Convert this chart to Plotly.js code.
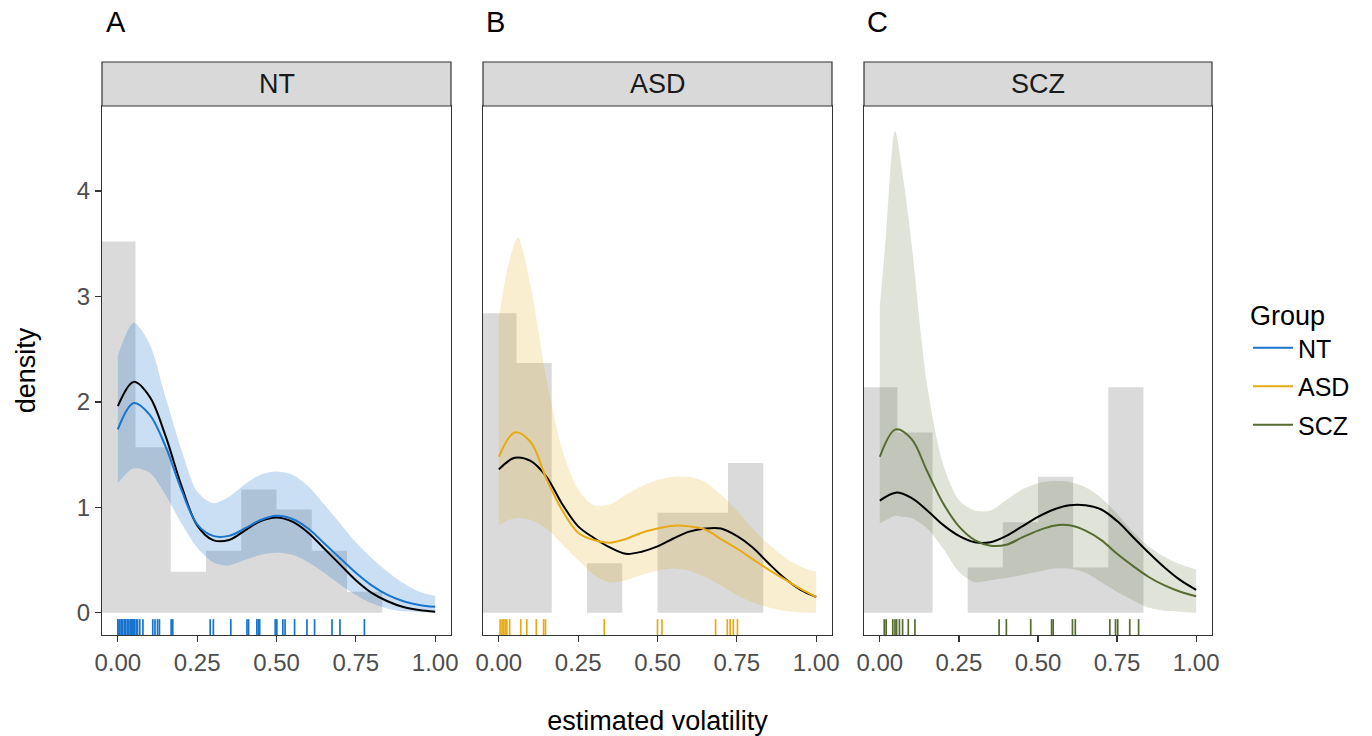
<!DOCTYPE html>
<html>
<head>
<meta charset="utf-8">
<script src="https://cdn.plot.ly/plotly-3.0.1.min.js"></script>
<style>html,body{margin:0;padding:0;background:#fff}#chart{width:1372px;height:736px}</style>
</head>
<body>
<div id="chart"></div>
<script>
// ---------- data ----------
const groups = ["NT", "ASD", "SCZ"];
const panelLetters = ["A", "B", "C"];
const xTickVals = [0, 0.25, 0.5, 0.75, 1];
const xTickLabels = ["0.00", "0.25", "0.50", "0.75", "1.00"];
const yTickVals = [0, 1, 2, 3, 4];

// histogram (bin width 1/9, centres)
const binWidth = 1 / 9;
const binCenters = [0, 0.1111, 0.2222, 0.3333, 0.4444, 0.5556, 0.6667, 0.7778];
const histNT  = [3.52, 1.57, 0.39, 0.59, 1.17, 0.98, 0.59, 0.20];
const histASD = [2.84, 2.37, 0.00, 0.47, 0.00, 0.95, 0.95, 1.42];
const histSCZ = [2.14, 1.71, 0.00, 0.43, 0.86, 1.29, 0.43, 2.14];

// density curves
const xGrid = [0, 0.05, 0.1, 0.15, 0.2, 0.25, 0.3, 0.35, 0.4, 0.45, 0.5, 0.55, 0.6, 0.65, 0.7, 0.75, 0.8, 0.85, 0.9, 0.95, 1.0];
const groupNT   = [1.74, 1.99, 1.88, 1.58, 1.17, 0.84, 0.73, 0.73, 0.80, 0.88, 0.92, 0.89, 0.80, 0.66, 0.52, 0.38, 0.26, 0.17, 0.11, 0.075, 0.057];
const overallNT = [1.96, 2.19, 2.05, 1.68, 1.21, 0.83, 0.69, 0.69, 0.78, 0.87, 0.905, 0.865, 0.76, 0.61, 0.46, 0.31, 0.19, 0.11, 0.055, 0.027, 0.011];
const groupASD   = [1.48, 1.71, 1.62, 1.27, 0.97, 0.76, 0.69, 0.665, 0.70, 0.76, 0.80, 0.827, 0.82, 0.79, 0.70, 0.61, 0.51, 0.41, 0.32, 0.23, 0.15];
const overallASD = [1.36, 1.47, 1.44, 1.29, 1.03, 0.82, 0.71, 0.62, 0.56, 0.58, 0.63, 0.705, 0.77, 0.80, 0.80, 0.73, 0.62, 0.47, 0.33, 0.22, 0.15];
const groupSCZ   = [1.48, 1.74, 1.65, 1.34, 1.04, 0.82, 0.69, 0.637, 0.646, 0.715, 0.78, 0.827, 0.83, 0.78, 0.69, 0.56, 0.445, 0.34, 0.26, 0.20, 0.157];
const overallSCZ = [1.064, 1.14, 1.09, 0.97, 0.834, 0.73, 0.67, 0.67, 0.73, 0.82, 0.91, 0.98, 1.02, 1.02, 0.98, 0.87, 0.72, 0.57, 0.43, 0.31, 0.218];

// credible bands
const bandXNT = [0, 0.05, 0.1, 0.15, 0.2, 0.25, 0.3, 0.35, 0.4, 0.45, 0.5, 0.55, 0.6, 0.65, 0.7, 0.75, 0.8, 0.85, 0.9, 0.95, 1.0];
const upperNT = [2.44, 2.75, 2.55, 2.05, 1.55, 1.15, 1.04, 1.10, 1.22, 1.31, 1.34, 1.31, 1.20, 1.03, 0.85, 0.67, 0.52, 0.39, 0.28, 0.20, 0.16];
const lowerNT = [1.23, 1.37, 1.33, 1.12, 0.85, 0.62, 0.48, 0.45, 0.50, 0.55, 0.57, 0.55, 0.48, 0.38, 0.27, 0.17, 0.09, 0.04, 0.015, 0.005, 0.0];
const bandXASD = [0, 0.03, 0.06, 0.1, 0.15, 0.2, 0.25, 0.3, 0.35, 0.4, 0.45, 0.5, 0.55, 0.6, 0.65, 0.7, 0.75, 0.8, 0.85, 0.9, 0.95, 1.0];
const upperASD = [2.8, 3.3, 3.56, 3.1, 2.22, 1.545, 1.17, 1.02, 1.03, 1.12, 1.20, 1.26, 1.29, 1.29, 1.24, 1.12, 0.97, 0.80, 0.65, 0.53, 0.44, 0.39];
const lowerASD = [0.83, 0.88, 0.90, 0.88, 0.80, 0.65, 0.50, 0.36, 0.29, 0.31, 0.36, 0.40, 0.42, 0.40, 0.34, 0.26, 0.17, 0.10, 0.05, 0.02, 0.005, 0.0];
const bandXSCZ = [0, 0.02, 0.048, 0.075, 0.1, 0.15, 0.2, 0.25, 0.3, 0.35, 0.4, 0.45, 0.5, 0.55, 0.6, 0.65, 0.7, 0.75, 0.8, 0.85, 0.9, 0.95, 1.0];
const upperSCZ = [2.9, 3.6, 4.57, 4.1, 3.51, 2.15, 1.41, 1.07, 0.97, 0.97, 1.07, 1.17, 1.23, 1.25, 1.24, 1.19, 1.09, 0.94, 0.77, 0.63, 0.53, 0.46, 0.41];
const lowerSCZ = [0.85, 0.88, 0.92, 0.91, 0.90, 0.80, 0.61, 0.39, 0.29, 0.31, 0.33, 0.36, 0.39, 0.42, 0.42, 0.38, 0.29, 0.20, 0.12, 0.05, 0.02, 0.01, 0.0];

// rug (individual estimates)
const rugNT = [0.0, 0.0, 0.005, 0.01, 0.012, 0.015, 0.02, 0.022, 0.025, 0.03, 0.032, 0.035, 0.04, 0.042, 0.045, 0.048, 0.05, 0.053,
  0.058, 0.062, 0.069, 0.079, 0.11, 0.117, 0.125, 0.131, 0.168, 0.173, 0.291, 0.301, 0.356,
  0.407, 0.412, 0.438, 0.443, 0.447, 0.496, 0.501, 0.52, 0.527, 0.557, 0.596, 0.62, 0.675, 0.70, 0.777];
const rugASD = [0.004, 0.01, 0.015, 0.02, 0.025, 0.034, 0.069, 0.088, 0.118, 0.141, 0.147, 0.332, 0.50, 0.514, 0.683, 0.72, 0.729, 0.739, 0.752];
const rugSCZ = [0.014, 0.02, 0.041, 0.048, 0.053, 0.062, 0.072, 0.09, 0.111, 0.377, 0.40, 0.477, 0.543, 0.548, 0.609, 0.618, 0.727, 0.745, 0.752, 0.79, 0.818];

// ---------- styling ----------
const lineColors = ["#1874CD", "#E8AA14", "#556B2F"];
const bandColors = ["rgba(24,116,205,0.23)", "rgba(232,170,20,0.2)", "rgba(85,107,47,0.19)"];
const histColor = "rgba(127,127,127,0.29)";
const FONT = "Liberation Sans, Arial, Helvetica, sans-serif";
const W = 1372, H = 736;
const panelPx = [[102, 451], [483, 832], [864, 1212]];
const plotTop = 106, plotBottom = 635, stripTop = 62;
const letterX = [116, 495, 877];

const hist = [histNT, histASD, histSCZ];
const grp = [groupNT, groupASD, groupSCZ];
const ovr = [overallNT, overallASD, overallSCZ];
const bandX = [bandXNT, bandXASD, bandXSCZ];
const upper = [upperNT, upperASD, upperSCZ];
const lower = [lowerNT, lowerASD, lowerSCZ];
const rugs = [rugNT, rugASD, rugSCZ];

const traces = [];
const shapes = [];
const annotations = [];
const layout = {
  width: W, height: H,
  margin: {l: 0, r: 0, t: 0, b: 0, autoexpand: false},
  paper_bgcolor: "#fff", plot_bgcolor: "#fff",
  font: {family: FONT, color: "#000"},
  showlegend: true,
  legend: {
    x: 1248 / W, xanchor: "left", y: 1 - 290 / H, yanchor: "top",
    traceorder: "grouped",
    title: {text: "Group", font: {size: 27, color: "#000"}},
    font: {size: 25, color: "#000"},
    itemwidth: 40, tracegroupgap: 3, bgcolor: "rgba(0,0,0,0)"
  }
};

for (let k = 0; k < 3; k++) {
  const sfx = k === 0 ? "" : String(k + 1);
  const xa = "x" + sfx, ya = "y" + sfx;
  // histogram drawn as a filled step outline (bin edges from centres)
  const edges = binCenters.map(c => c - binWidth / 2).concat([binCenters[binCenters.length - 1] + binWidth / 2]);
  const stepY = hist[k].concat([hist[k][hist[k].length - 1]]);
  traces.push({type: "scatter", mode: "lines", x: edges, y: stepY, xaxis: xa, yaxis: ya,
    line: {width: 0, shape: "hv"}, fill: "tozeroy", fillcolor: histColor, showlegend: false, hoverinfo: "skip"});
  traces.push({type: "scatter", mode: "lines", x: bandX[k], y: lower[k], xaxis: xa, yaxis: ya,
    line: {width: 0, shape: "spline", smoothing: 0.8}, showlegend: false, hoverinfo: "skip"});
  traces.push({type: "scatter", mode: "lines", x: bandX[k], y: upper[k], xaxis: xa, yaxis: ya,
    fill: "tonexty", fillcolor: bandColors[k],
    line: {width: 0, shape: "spline", smoothing: 0.8}, showlegend: false, hoverinfo: "skip"});
  traces.push({type: "scatter", mode: "lines", x: xGrid, y: ovr[k], xaxis: xa, yaxis: ya,
    line: {color: "#000", width: 2, shape: "spline"}, showlegend: false});
  traces.push({type: "scatter", mode: "lines", x: xGrid, y: grp[k], xaxis: xa, yaxis: ya,
    name: groups[k], legendgroup: groups[k], line: {color: lineColors[k], width: 2, shape: "spline"}, showlegend: true});

  const dom = [panelPx[k][0] / W, panelPx[k][1] / W];
  layout["xaxis" + sfx] = {
    domain: dom, anchor: ya, range: [-0.05, 1.05],
    tickvals: xTickVals, ticktext: xTickLabels,
    ticks: "outside", ticklen: 6, tickwidth: 1.2, tickcolor: "#333",
    tickfont: {size: 24, color: "#4d4d4d", family: FONT},
    showline: true, mirror: true, linecolor: "#333", linewidth: 1.2,
    showgrid: false, zeroline: false, fixedrange: true
  };
  const yax = {
    domain: [1 - plotBottom / H, 1 - plotTop / H], anchor: xa, range: [-0.21, 4.806],
    tickvals: yTickVals,
    ticks: k === 0 ? "outside" : "", ticklen: 6, tickwidth: 1.2, tickcolor: "#333",
    showticklabels: k === 0,
    tickfont: {size: 24, color: "#4d4d4d", family: FONT},
    showline: true, mirror: true, linecolor: "#333", linewidth: 1.2,
    showgrid: false, zeroline: false, fixedrange: true
  };
  if (k === 0) yax.title = {text: "density", font: {size: 27, color: "#000"}, standoff: 33};
  layout["yaxis" + sfx] = yax;
  if (k === 1) layout["xaxis" + sfx].title = {text: "estimated volatility", font: {size: 27, color: "#000"}, standoff: 40};

  // strip
  shapes.push({type: "rect", xref: "paper", yref: "paper", x0: dom[0], x1: dom[1],
    y0: 1 - plotTop / H, y1: 1 - stripTop / H, fillcolor: "#d9d9d9", line: {color: "#333", width: 1.2}, layer: "above"});
  annotations.push({xref: "paper", yref: "paper", x: (dom[0] + dom[1]) / 2, y: 1 - (plotTop + stripTop) / 2 / H,
    text: groups[k], showarrow: false, xanchor: "center", yanchor: "middle", font: {size: 27, color: "#1a1a1a"}});
  annotations.push({xref: "paper", yref: "paper", x: letterX[k] / W, y: 1 - 22 / H,
    text: panelLetters[k], showarrow: false, xanchor: "center", yanchor: "middle", font: {size: 29, color: "#000"}});
  // rug
  rugs[k].forEach(v => shapes.push({type: "line", xref: xa, yref: ya + " domain", x0: v, x1: v, y0: 0, y1: 0.03,
    line: {color: lineColors[k], width: 1.7}, layer: "above"}));
}
layout.shapes = shapes;
layout.annotations = annotations;

Plotly.newPlot("chart", traces, layout, {staticPlot: true, displayModeBar: false});
</script>
</body>
</html>
